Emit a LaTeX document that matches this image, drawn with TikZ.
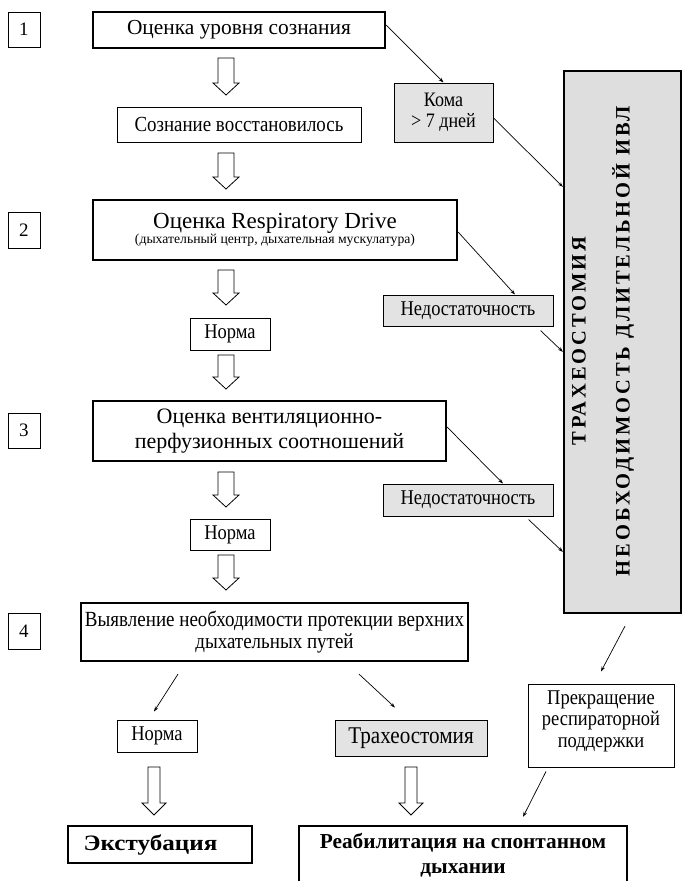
\documentclass[tikz,border=0pt]{standalone}
\usepackage{fontspec}
\setmainfont{Liberation Serif}
\newfontfamily\spacedbold[LetterSpace=14]{Liberation Serif}
\newfontfamily\condf[FakeStretch=0.88]{Liberation Serif}
\newfontfamily\widef[FakeStretch=1.14]{Liberation Serif}
\usetikzlibrary{arrows.meta,calc}
\tikzset{
  box/.style={draw, line width=1pt, fill=white, inner sep=0pt, align=center},
  thickbox/.style={box, line width=2.2pt},
  graybox/.style={box, fill=black!11},
  conn/.style={line width=0.7pt, -{Stealth[length=5pt,width=3.5pt]}},
  hollow/.style={draw, line width=0.8pt, fill=white},
}
\newcommand\harrow[5]{%
  \draw[hollow] ({#1-#4},#2) -- ({#1+#4},#2) -- ({#1+#4},{#2+#3-12}) -- ({#1+#5},{#2+#3-12}) -- (#1,{#2+#3}) -- ({#1-#5},{#2+#3-12}) -- ({#1-#4},{#2+#3-12}) -- cycle;}
\newcommand\fs[2]{\fontsize{#1}{#2}\selectfont}
\begin{document}
\begin{tikzpicture}[x=1pt,y=-1pt]
\useasboundingbox[fill=white] (0,0) rectangle (682,881);

% step numbers
\node[box, minimum width=32pt, minimum height=35pt, font=\fs{19}{22}] (n1) at (24,29.5) {1};
\node[box, minimum width=32pt, minimum height=36pt, font=\fs{19}{22}] (n2) at (24,230) {2};
\node[box, minimum width=32pt, minimum height=35pt, font=\fs{19}{22}] (n3) at (24,430.5) {3};
\node[box, minimum width=32pt, minimum height=36pt, font=\fs{19}{22}] (n4) at (24,631) {4};

% big gray box
\node[box, line width=2.2pt, fill=black!13, minimum width=117pt, minimum height=542pt] (big) at (622.5,342) {};
\node[rotate=90, align=center, font=\spacedbold\bfseries\fs{20.5}{44}] (bigtext) at (603,341) {ТРАХЕОСТОМИЯ\\НЕОБХОДИМОСТЬ ДЛИТЕЛЬНОЙ ИВЛ};

% main column
\node[thickbox, minimum width=292pt, minimum height=36pt, font=\fs{21.4}{24}] (b1) at (239,30) {Оценка уровня сознания};
\node[box, minimum width=244pt, minimum height=35pt, font=\condf\fs{21.5}{23}] (cons) at (239,124.5) {Сознание восстановилось};
\node[graybox, minimum width=99pt, minimum height=59pt, font=\condf\fs{20.5}{20.7}] (koma) at (443.5,112.5) {Кома\\> 7 дней};

\node[thickbox, minimum width=364pt, minimum height=60pt] (rd) at (275,230) {{\fs{23}{19}Оценка Respiratory Drive}\\[0pt]{\fs{13.7}{16}(дыхательный центр, дыхательная мускулатура)}};
\node[box, minimum width=80pt, minimum height=32pt, font=\condf\fs{21}{23}] (norm1) at (230,334) {Норма};
\node[graybox, minimum width=170pt, minimum height=31pt, font=\condf\fs{21}{23}] (ned1) at (468,310.5) {Недостаточность};

\node[thickbox, minimum width=353pt, minimum height=60pt, font=\fs{22}{24.5}] (vp) at (269.5,431) {Оценка вентиляционно-\\перфузионных соотношений};
\node[graybox, minimum width=170pt, minimum height=32pt, font=\condf\fs{21}{23}] (ned2) at (468,500) {Недостаточность};
\node[box, minimum width=80pt, minimum height=31pt, font=\condf\fs{21}{23}] (norm2) at (230,534.5) {Норма};

\node[thickbox, minimum width=387pt, minimum height=58pt, font=\condf\fs{21.6}{21.5}] (zv) at (274.5,632) {Выявление необходимости протекции верхних\\дыхательных путей};
\node[box, minimum width=80pt, minimum height=32pt, font=\condf\fs{21}{23}] (norm3) at (157,736) {Норма};
\node[graybox, minimum width=152pt, minimum height=36pt, font=\condf\fs{24}{26}] (trach) at (411,738) {Трахеостомия};
\node[box, minimum width=146pt, minimum height=83pt, font=\condf\fs{21}{21.3}] (prek) at (601,725.5) {Прекращение\\респираторной\\поддержки\\[-8pt]};

\node[thickbox, minimum width=184pt, minimum height=37pt, font=\widef\bfseries\fs{22}{24}] (ext) at (160,844.5) {\hbox{Экстубация\kern19pt}};
\node[thickbox, minimum width=328pt, minimum height=59pt, font=\bfseries\fs{21.3}{25}] (reab) at (463,855.5) {Реабилитация на спонтанном\\дыхании};

% hollow arrows
\harrow{226}{58}{37}{8}{13}
\harrow{226}{153}{36}{8}{13}
\harrow{226}{270}{35}{8}{13}
\harrow{226}{355}{34}{8}{13}
\harrow{226}{472}{35}{8}{13}
\harrow{226}{555}{35}{8}{13}
\harrow{154}{767}{48}{6}{12}
\harrow{411}{767}{48}{6}{12}

% thin connectors
\draw[conn] ([yshift=5pt]b1.east) -- (koma.north);
\draw[conn] ([yshift=-5.5pt]koma.east) -- ([yshift=-117pt]big.north west);
\draw[conn] ([yshift=-2pt]rd.east) -- ([xshift=47pt]ned1.north);
\draw[conn] ([xshift=-13pt,yshift=-4pt]ned1.south east) -- ([yshift=-282pt]big.north west);
\draw[conn] ([yshift=4pt]vp.east) -- ([xshift=35pt]ned2.north);
\draw[conn] ([xshift=-25pt,yshift=-3pt]ned2.south east) -- ([yshift=-482pt]big.north west);
\draw[conn] ([xshift=-96.5pt,yshift=-12pt]zv.south) -- ([xshift=-3pt,yshift=8pt]norm3.north);
\draw[conn] ([xshift=84.5pt,yshift=-12pt]zv.south) -- ([xshift=-16pt,yshift=12pt]trach.north);
\draw[conn] ([xshift=2.5pt,yshift=-12pt]big.south) -- ([yshift=12pt]prek.north);
\draw[conn] ([xshift=-55pt,yshift=-4pt]prek.south) -- ([xshift=60pt,yshift=8pt]reab.north);
\end{tikzpicture}
\end{document}
